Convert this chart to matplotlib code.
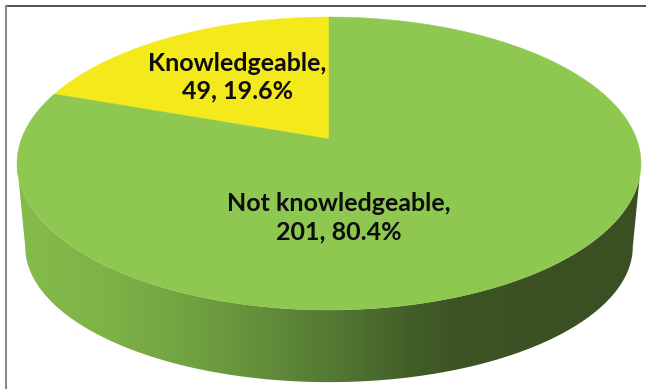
import numpy as np
import matplotlib
matplotlib.use('Agg')
from matplotlib import pyplot as plt
from matplotlib.colors import LinearSegmentedColormap
from matplotlib.patches import Polygon

labels = ['Knowledgeable', 'Not knowledgeable']
counts = [49, 201]
percents = [19.6, 80.4]
colors = ['#f3e91b', '#8fc851']
label_pos = [(237.5, 77), (339, 217.5)]

# shading along the side wall, left to right
wall_x = [0.0, 0.14, 0.30, 0.50, 0.64, 0.72, 1.0]
wall_colors = ['#85bc4a', '#7eb347', '#6f9f40', '#557a34', '#425d28', '#3c5324', '#3a4f22']

W, H = 646, 389
CX = 329
TILT = 0.1672


def project(theta, cy, rx, ry):
    # theta runs clockwise from the far point of the disc
    u, v = np.sin(theta), np.cos(theta)
    d = 1 + TILT * v
    return CX + rx * u / d, cy - ry * v / d


fig = plt.figure(figsize=(W / 100, H / 100), dpi=100)
ax = fig.add_axes([0, 0, 1, 1])
ax.set_xlim(0, W)
ax.set_ylim(H, 0)
ax.axis('off')

# side wall, between front rim of the top and the bottom rim
widest = np.arccos(-TILT)
t = np.linspace(widest, 2 * np.pi - widest, 300)
xt, yt = project(t, 139, 307.6, 142.4)
xb, yb = project(t, 224, 299.5, 131.7)
wall = Polygon(np.r_[np.c_[xt, yt], np.c_[xb, yb][::-1]], closed=True, fc='none', ec='none')
ax.add_patch(wall)
cmap = LinearSegmentedColormap.from_list('wall', list(zip(wall_x, wall_colors)))
img = ax.imshow(np.linspace(0, 1, 512)[None, :], cmap=cmap, aspect='auto',
                extent=[17, 640, 389, 0], zorder=1)
img.set_clip_path(wall)
ax.set_xlim(0, W)
ax.set_ylim(H, 0)

# top face
edges = np.r_[0, np.cumsum(counts)] / np.sum(counts) * 2 * np.pi
for i in range(len(counts)):
    # first slice sits left of the far point, so walk counter-clockwise
    a = np.linspace(-edges[i], -edges[i + 1], 300)
    x, y = project(a, 139, 307.6, 142.4)
    x0, y0 = project(0.0, 139, 0, 0)
    ax.fill(np.r_[x0, x], np.r_[y0, y], color=colors[i], lw=0.3, zorder=2)

for i in range(len(counts)):
    ax.text(label_pos[i][0], label_pos[i][1], f'{labels[i]},\n{counts[i]}, {percents[i]}%',
            family='Lato', weight='bold', fontsize=18, color='#0d0d0d',
            ha='center', va='center', linespacing=1.26, zorder=3)

# frame lines on the top and left
ax.plot([5.5, W], [6, 6], color='#333333', lw=1.2, zorder=4)
ax.plot([6, 6], [6, H], color='#8a8a8a', lw=1.5, zorder=4)

fig.savefig('out.png', dpi=100)
